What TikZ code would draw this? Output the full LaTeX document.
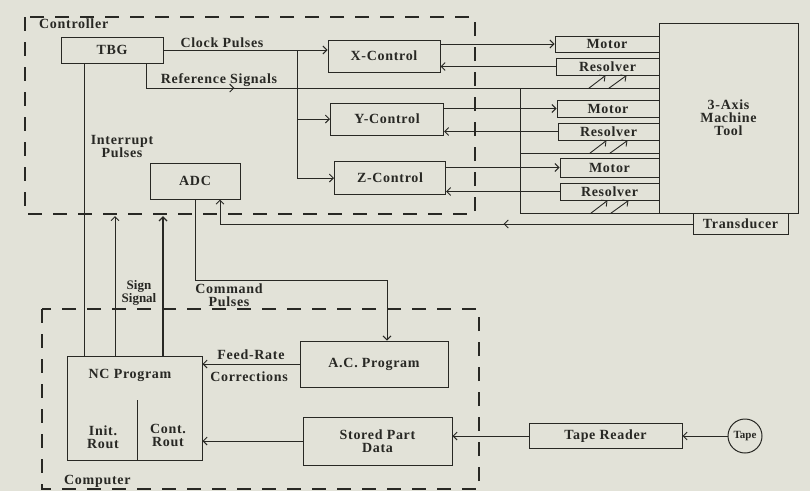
\documentclass[tikz,border=0pt]{standalone}
\usepackage{fontspec}
\setmainfont{Liberation Serif}[LetterSpace=5]
\usetikzlibrary{arrows.meta,positioning,calc,decorations.markings}
\definecolor{paper}{RGB}{226,226,216}
\definecolor{ink}{RGB}{40,40,36}

\tikzset{
  blk/.style={draw=ink, line width=1pt, inner sep=0pt, align=center},
  wire/.style={draw=ink, line width=0.9pt},
  arr/.style={wire, -{Straight Barb[length=4pt,width=8pt]}},
  zone/.style={draw=ink, line width=1.3pt, dash pattern=on 14pt off 11pt},
  midarr/.style={postaction={decorate}, decoration={markings,
      mark=at position #1 with {\arrow[ink]{Straight Barb[length=4pt,width=8pt]}}}},
}

\begin{document}
\begin{tikzpicture}[x=1pt, y=-1pt,
    every node/.style={font=\fontsize{14}{13}\selectfont\bfseries, text=ink, inner sep=1pt}]
  \fill[paper] (0,0) rectangle (810,491);
  \useasboundingbox (0,0) rectangle (810,491);

  % Controller and Computer regions
  \draw[zone] (25,17) rectangle (475,214);
  \draw[zone] (42,309) rectangle (479,489);
  \node[anchor=base west] (ctrl) at (38,28) {Controller};
  \node[anchor=base west] (comp) at (63,484) {Computer};

  % Controller blocks
  \node[blk, minimum width=102pt, minimum height=26pt] (tbg) at (112,50) {TBG};
  \node[blk, minimum width=112pt, minimum height=32pt] (xctl) at (384,56) {X-Control};
  \node[blk, minimum width=113pt, minimum height=32pt] (yctl) at (387,119) {Y-Control};
  \node[blk, minimum width=111pt, minimum height=33pt] (zctl) at (390,178) {Z-Control};
  \node[blk, minimum width=90pt, minimum height=36pt] (adc) at (195,181) {ADC};

  % Machine side
  \node[blk, minimum width=139pt, minimum height=190pt] (mtool) at (728.5,118) {3-Axis\\Machine\\Tool};
  \node[blk, minimum width=104pt, minimum height=16pt] (mot1) at (607,44) {Motor};
  \node[blk, minimum width=103pt, minimum height=17pt] (rsv1) at (607.5,66.5) {Resolver};
  \node[blk, minimum width=102pt, minimum height=17pt] (mot2) at (608,108.5) {Motor};
  \node[blk, minimum width=101pt, minimum height=17pt] (rsv2) at (608.5,131.5) {Resolver};
  \node[blk, minimum width=99pt, minimum height=19pt] (mot3) at (609.5,167.5) {Motor};
  \node[blk, minimum width=99pt, minimum height=17pt] (rsv3) at (609.5,191.5) {Resolver};
  \node[blk, minimum width=95pt, minimum height=21pt] (trans) at (740.5,224) {Transducer};

  % Computer blocks
  \node[blk, minimum width=135pt, minimum height=104pt] (nc) at (134.5,408) {};
  \node[anchor=base] (nclbl) at (130,378) {NC Program};
  \node[align=center] (init) at (103,437) {Init.\\Rout};
  \node[align=center] (cont) at (168,435) {Cont.\\Rout};
  \node[blk, minimum width=148pt, minimum height=46pt] (acp) at (374,364) {A.C. Program};
  \node[blk, minimum width=149pt, minimum height=48pt] (spd) at (377.5,441) {Stored Part\\Data};
  \node[blk, minimum width=153pt, minimum height=25pt] (rdr) at (605.5,436) {Tape Reader};
  \node[blk, circle, minimum size=34pt, font=\fontsize{11}{11}\selectfont\bfseries\addfontfeature{LetterSpace=0}] (tape) at (745,436) {Tape};

  % Clock pulses to the three axis controls
  \coordinate (clk) at (297,50);
  \draw[arr] (tbg.east) -- (tbg.east -| xctl.west);
  \draw[arr] (clk) |- (zctl.west);
  \draw[arr] (clk |- yctl.west) -- (yctl.west);
  \node[anchor=base] (clklbl) at (222,47) {Clock Pulses};

  % Reference signals to the resolvers
  \coordinate (refx) at (146,88);
  \coordinate (bus) at (520,88);
  \coordinate (lnB) at ($(rsv2.south)+(0,13)$);
  \coordinate (lnC) at ($(rsv3.south)+(0,13)$);
  \draw[wire, midarr=0.21] (tbg.south -| refx) -- (refx) -- (refx -| mtool.west);
  \draw[wire] (bus) |- (mtool.west |- lnC);
  \draw[wire] (bus |- lnB) -- (mtool.west |- lnB);
  \node[anchor=base] (reflbl) at (219,83) {Reference Signals};
  \foreach \r in {rsv1,rsv2,rsv3}{
    \draw[arr] ($(\r.south)+(-19,13)$) -- ($(\r.south)+(-2,0)$);
    \draw[arr] ($(\r.south)+(1,13)$) -- ($(\r.south)+(19,0)$);
  }

  % Controls to motors, resolvers back
  \foreach \c/\m/\r in {xctl/mot1/rsv1, yctl/mot2/rsv2, zctl/mot3/rsv3}{
    \draw[arr] (\c.east |- \m.west) -- (\m.west);
    \draw[arr] (\r.west) -- (\r.west -| \c.east);
  }

  % Transducer feedback to ADC
  \draw[arr, midarr=0.38] (trans.west) -| ($(adc.south)+(25,0)$);

  % Command pulses
  \coordinate (cmd) at (387,280);
  \draw[arr] (adc.south) |- (cmd) -- (cmd |- acp.north);
  \node[align=center] (cmdlbl) at (229,295) {Command\\Pulses};

  % Interrupt and sign lines
  \coordinate (intr) at (84,200);
  \coordinate (sgnA) at (115,216);
  \coordinate (sgnB) at (163,216);
  \draw[wire] (tbg.south -| intr) -- (nc.north -| intr);
  \draw[arr] (nc.north -| sgnA) -- (sgnA);
  \draw[arr, line width=1.4pt] (nc.north -| sgnB) -- (sgnB);
  \node[align=center] (intlbl) at (122,146) {Interrupt\\Pulses};
  \node[align=center, font=\fontsize{13}{13}\selectfont\bfseries\addfontfeature{LetterSpace=0}] (sgnlbl) at (139,293) {Sign\\Signal};

  % NC program split
  \coordinate (div) at (137,400);
  \draw[wire] (div) -- (div |- nc.south);

  % Computer side connectors
  \draw[arr] (acp.west) -- (acp.west -| nc.east);
  \node[anchor=base] (frlbl) at (251,359) {Feed-Rate};
  \node[anchor=base] (corlbl) at (249,381) {Corrections};
  \draw[arr] (spd.west) -- (spd.west -| nc.east);
  \draw[arr] (rdr.west) -- (rdr.west -| spd.east);
  \draw[arr] (tape.west) -- (rdr.east);
\end{tikzpicture}
\end{document}
